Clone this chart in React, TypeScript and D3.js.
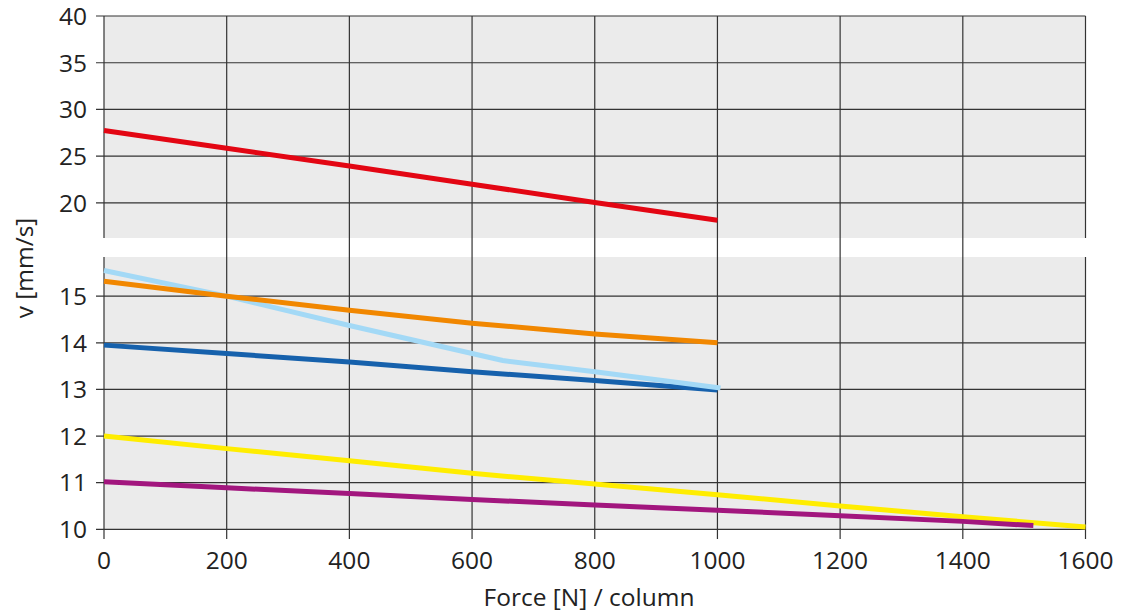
import React from "react";
import * as d3 from "d3";

const xTicks = [0, 200, 400, 600, 800, 1000, 1200, 1400, 1600];
const yTopTicks = [20, 25, 30, 35, 40];
const yBottomTicks = [10, 11, 12, 13, 14, 15];

const redX = [0, 200, 400, 600, 800, 1000];
const redY = [27.75, 25.85, 23.95, 22.0, 20.05, 18.15];
const orangeX = [0, 200, 400, 600, 800, 1000];
const orangeY = [15.32, 15.0, 14.7, 14.42, 14.19, 14.0];
const lightBlueX = [0, 200, 400, 650, 800, 1005];
const lightBlueY = [15.55, 15.0, 14.37, 13.62, 13.38, 13.03];
const darkBlueX = [0, 200, 400, 600, 800, 1000];
const darkBlueY = [13.95, 13.77, 13.59, 13.38, 13.19, 12.99];
const yellowX = [0, 200, 400, 600, 800, 1000, 1200, 1400, 1600];
const yellowY = [12.0, 11.73, 11.47, 11.2, 10.97, 10.74, 10.5, 10.27, 10.05];
const purpleX = [0, 200, 400, 600, 800, 1000, 1200, 1400, 1515];
const purpleY = [11.02, 10.89, 10.77, 10.64, 10.52, 10.41, 10.29, 10.17, 10.08];

const topSeries = [{ xs: redX, ys: redY, color: "#e30613" }];
const bottomSeries = [
  { xs: yellowX, ys: yellowY, color: "#ffed00" },
  { xs: purpleX, ys: purpleY, color: "#a2167e" },
  { xs: darkBlueX, ys: darkBlueY, color: "#1661ac" },
  { xs: lightBlueX, ys: lightBlueY, color: "#a3d9f6" },
  { xs: orangeX, ys: orangeY, color: "#f18700" },
];

export default function App() {
  const x = d3.scaleLinear().domain([0, 1600]).range([104, 1085.5]);
  const yTop = d3.scaleLinear().domain([16.25, 40]).range([238, 16]);
  const yBot = d3.scaleLinear().domain([10, 15.84]).range([529.3, 257]);
  const font = "'Open Sans', 'Noto Sans', sans-serif";
  const fs = 24.5;
  const grid = "#333";
  const mk = (xs: number[], ys: number[], ys2: d3.ScaleLinear<number, number>) =>
    d3.line<number>().x((_, i) => x(xs[i])).y((v) => ys2(v))(ys) || "";

  return (
    <svg width={1121} height={613} style={{ position: "absolute", left: 0, top: 0 }}>
      <rect x={x(0)} y={yTop(40)} width={x(1600) - x(0)} height={yTop(16.25) - yTop(40)} fill="#ebebeb" />
      <rect x={x(0)} y={yBot(15.84)} width={x(1600) - x(0)} height={yBot(10) - yBot(15.84)} fill="#ebebeb" />
      {yTopTicks.map((t) => (
        <g key={"yt" + t}>
          <line x1={96} x2={x(1600)} y1={yTop(t)} y2={yTop(t)} stroke={grid} strokeWidth={1.2} />
          <text x={87} y={yTop(t)} dy="0.36em" textAnchor="end" fontFamily={font} fontSize={fs} fill="#222">{t}</text>
        </g>
      ))}
      {yBottomTicks.map((t) => (
        <g key={"yb" + t}>
          <line x1={96} x2={x(1600)} y1={yBot(t)} y2={yBot(t)} stroke={grid} strokeWidth={1.2} />
          <text x={87} y={yBot(t)} dy="0.36em" textAnchor="end" fontFamily={font} fontSize={fs} fill="#222">{t}</text>
        </g>
      ))}
      {xTicks.map((t) =>
        t === 0 || t === 1600 ? (
          <g key={"xa" + t}>
            <line x1={x(t)} x2={x(t)} y1={yTop(40)} y2={yTop(16.25)} stroke={grid} strokeWidth={1.2} />
            <line x1={x(t)} x2={x(t)} y1={yBot(15.84)} y2={539} stroke={grid} strokeWidth={1.2} />
          </g>
        ) : (
          <line key={"xg" + t} x1={x(t)} x2={x(t)} y1={yTop(40)} y2={539} stroke={grid} strokeWidth={1.2} />
        )
      )}
      {xTicks.map((t) => (
        <text key={"xl" + t} x={x(t)} y={569} textAnchor="middle" fontFamily={font} fontSize={fs} fill="#222">{t}</text>
      ))}
      {topSeries.map((s, i) => (
        <path key={"ts" + i} d={mk(s.xs, s.ys, yTop)} fill="none" stroke={s.color} strokeWidth={5} />
      ))}
      {bottomSeries.map((s, i) => (
        <path key={"bs" + i} d={mk(s.xs, s.ys, yBot)} fill="none" stroke={s.color} strokeWidth={5} />
      ))}
      <text x={589} y={606} textAnchor="middle" fontFamily={font} fontSize={fs} fill="#222">Force [N] / column</text>
      <text transform={`translate(33, 268) rotate(-90)`} textAnchor="middle" fontFamily={font} fontSize={fs} fill="#222">v [mm/s]</text>
    </svg>
  );
}
